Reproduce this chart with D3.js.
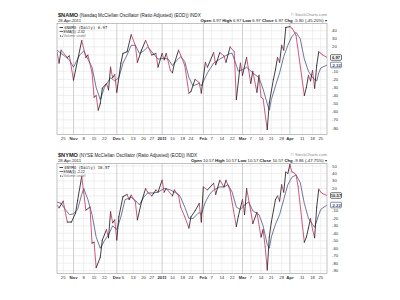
<!DOCTYPE html>
<html>
<head>
<meta charset="utf-8">
<script src="https://cdn.jsdelivr.net/npm/d3@7"></script>
<style>
  html, body { margin: 0; padding: 0; background: #fff; }
  svg { display: block; font-family: 'Liberation Sans', Arial, sans-serif; }
</style>
</head>
<body>
<div id="chart"></div>
<script>
// market holidays between Oct 2010 and Apr 2011 (no bars on these days)
const holidays = ['2010-11-25', '2010-12-24', '2011-01-17', '2011-02-21', '2011-04-22']

const tickDates = ['2010-10-25', '2010-11-01', '2010-11-08', '2010-11-15', '2010-11-22', '2010-12-01', '2010-12-06',
  '2010-12-13', '2010-12-20', '2010-12-27', '2011-01-03', '2011-01-10', '2011-01-18', '2011-01-24', '2011-02-01',
  '2011-02-07', '2011-02-14', '2011-02-22', '2011-03-01', '2011-03-07', '2011-03-14', '2011-03-21', '2011-03-28',
  '2011-04-01', '2011-04-11', '2011-04-18', '2011-04-25']
const tickLabels = ['25', 'Nov', '8', '15', '22', 'Dec', '6', '13', '20', '27', '2011', '10', '18', '24', 'Feb',
  '7', '14', '22', 'Mar', '7', '14', '21', '28', 'Apr', '11', '18', '25']
const monthTicks = ['2010-11-01', '2010-12-01', '2011-01-03', '2011-02-01', '2011-03-01', '2011-04-01']

// $NAMO daily (turning points)
const namo = [
  ['2010-10-20', 14], ['2010-10-21', 0], ['2010-10-22', 16], ['2010-10-27', 7], ['2010-10-28', 9],
  ['2010-11-01', -21], ['2010-11-05', 28], ['2010-11-09', 7], ['2010-11-10', 10], ['2010-11-12', -12],
  ['2010-11-15', -42], ['2010-11-16', -40], ['2010-11-17', -58], ['2010-11-18', -50], ['2010-11-19', -31],
  ['2010-11-23', -25], ['2010-11-24', -33], ['2010-11-26', -5], ['2010-11-29', -18], ['2010-11-30', -14],
  ['2010-12-01', -36], ['2010-12-03', 0], ['2010-12-06', 12], ['2010-12-08', 14], ['2010-12-10', 35],
  ['2010-12-14', 22], ['2010-12-15', 1], ['2010-12-17', 16], ['2010-12-21', 28], ['2010-12-22', 22],
  ['2010-12-27', 10], ['2010-12-29', 12], ['2010-12-30', -5], ['2011-01-03', 12], ['2011-01-04', 4],
  ['2011-01-05', 12], ['2011-01-07', -9], ['2011-01-10', -12], ['2011-01-11', 0], ['2011-01-13', 16],
  ['2011-01-14', 10], ['2011-01-19', -3], ['2011-01-21', -37], ['2011-01-24', -35], ['2011-01-26', -20],
  ['2011-01-28', -24], ['2011-01-31', -37], ['2011-02-02', 1], ['2011-02-03', -5], ['2011-02-08', 13],
  ['2011-02-09', -2], ['2011-02-11', 13], ['2011-02-15', 9], ['2011-02-16', 1], ['2011-02-18', 20],
  ['2011-02-23', 14], ['2011-02-24', -45], ['2011-02-28', 0], ['2011-03-01', -15], ['2011-03-03', 7],
  ['2011-03-07', -25], ['2011-03-08', -10], ['2011-03-10', -36], ['2011-03-11', -15], ['2011-03-14', -42],
  ['2011-03-15', -44], ['2011-03-17', -82], ['2011-03-18', -49], ['2011-03-22', -20], ['2011-03-23', -8],
  ['2011-03-24', 7], ['2011-03-25', 1], ['2011-03-28', 22], ['2011-03-29', 16], ['2011-03-30', 44],
  ['2011-04-01', 45], ['2011-04-04', 43], ['2011-04-05', 39], ['2011-04-06', 34], ['2011-04-12', -40],
  ['2011-04-13', -30], ['2011-04-14', -15], ['2011-04-15', -22], ['2011-04-18', -9], ['2011-04-19', -31],
  ['2011-04-20', -3], ['2011-04-21', 14], ['2011-04-25', 12], ['2011-04-26', 10], ['2011-04-28', 6.97]
]
const namoEma = [
  ['2010-10-20', 16], ['2010-10-22', 12], ['2010-10-26', 8], ['2010-10-28', 4], ['2010-11-01', -5],
  ['2010-11-04', 10], ['2010-11-08', 15], ['2010-11-10', 5], ['2010-11-12', -5], ['2010-11-16', -30],
  ['2010-11-18', -45], ['2010-11-22', -30], ['2010-11-24', -22], ['2010-11-26', -18], ['2010-11-30', -22],
  ['2010-12-02', -18], ['2010-12-06', 0], ['2010-12-08', 10], ['2010-12-10', 22], ['2010-12-14', 22],
  ['2010-12-16', 12], ['2010-12-20', 15], ['2010-12-22', 20], ['2010-12-27', 14], ['2010-12-30', 5],
  ['2011-01-04', 6], ['2011-01-06', 5], ['2011-01-10', -3], ['2011-01-12', 3], ['2011-01-14', 8],
  ['2011-01-19', 2], ['2011-01-21', -18], ['2011-01-25', -28], ['2011-01-28', -25], ['2011-01-31', -28],
  ['2011-02-03', -12], ['2011-02-08', 0], ['2011-02-11', 5], ['2011-02-15', 8], ['2011-02-18', 12],
  ['2011-02-22', 12], ['2011-02-25', -10], ['2011-03-01', -8], ['2011-03-03', -5], ['2011-03-08', -12],
  ['2011-03-11', -18], ['2011-03-15', -32], ['2011-03-17', -50], ['2011-03-18', -58], ['2011-03-21', -45],
  ['2011-03-23', -28], ['2011-03-25', -12], ['2011-03-29', 8], ['2011-03-31', 22], ['2011-04-04', 33],
  ['2011-04-06', 38], ['2011-04-08', 30], ['2011-04-12', 5], ['2011-04-14', -10], ['2011-04-18', -18],
  ['2011-04-20', -22], ['2011-04-21', -12], ['2011-04-25', -6], ['2011-04-28', -2.32]
]

// $NYMO daily
const nymo = [
  ['2010-10-20', -2], ['2010-10-21', -6], ['2010-10-25', 3], ['2010-10-27', -25], ['2010-10-29', -25],
  ['2010-11-02', -13], ['2010-11-03', 4], ['2010-11-05', 36], ['2010-11-08', 14], ['2010-11-09', -9],
  ['2010-11-11', -5], ['2010-11-12', -53], ['2010-11-15', -52], ['2010-11-16', -86], ['2010-11-18', -72],
  ['2010-11-19', -49], ['2010-11-23', -35], ['2010-11-24', -46], ['2010-11-26', -11], ['2010-11-29', -26],
  ['2010-11-30', -22], ['2010-12-01', -49], ['2010-12-02', -18], ['2010-12-06', 9], ['2010-12-08', 12],
  ['2010-12-09', 5], ['2010-12-10', 11], ['2010-12-14', 2], ['2010-12-15', -22], ['2010-12-17', 2],
  ['2010-12-21', 20], ['2010-12-22', 15], ['2010-12-27', 10], ['2010-12-29', 18], ['2010-12-30', 15],
  ['2011-01-03', 31], ['2011-01-04', 15], ['2011-01-05', 20], ['2011-01-10', 10], ['2011-01-11', 18],
  ['2011-01-13', 10], ['2011-01-14', -5], ['2011-01-19', -18], ['2011-01-21', -33], ['2011-01-24', -18],
  ['2011-01-26', -10], ['2011-01-28', 0], ['2011-01-31', -25], ['2011-02-01', 22], ['2011-02-03', 18],
  ['2011-02-08', 27], ['2011-02-09', 12], ['2011-02-11', 31], ['2011-02-15', 22], ['2011-02-16', 31],
  ['2011-02-18', 17], ['2011-02-24', -31], ['2011-02-25', -17], ['2011-03-01', 5], ['2011-03-02', -15],
  ['2011-03-03', 20], ['2011-03-07', -10], ['2011-03-08', -27], ['2011-03-10', -12], ['2011-03-14', -45],
  ['2011-03-15', -35], ['2011-03-16', -58], ['2011-03-17', -89], ['2011-03-18', -45], ['2011-03-21', -25],
  ['2011-03-23', 5], ['2011-03-24', 10], ['2011-03-25', 3], ['2011-03-28', 25], ['2011-03-29', 15],
  ['2011-03-30', 42], ['2011-03-31', 40], ['2011-04-01', 52], ['2011-04-04', 42], ['2011-04-05', 41],
  ['2011-04-06', 38], ['2011-04-07', 22], ['2011-04-12', -52], ['2011-04-13', -45], ['2011-04-14', -33],
  ['2011-04-15', -20], ['2011-04-18', -35], ['2011-04-19', -46], ['2011-04-20', -5], ['2011-04-21', 19],
  ['2011-04-25', 15], ['2011-04-26', 13], ['2011-04-28', 10.57]
]
const nymoEma = [
  ['2010-10-20', 2], ['2010-10-22', 0], ['2010-10-26', -8], ['2010-10-28', -15], ['2010-11-01', -14],
  ['2010-11-03', -8], ['2010-11-05', 12], ['2010-11-08', 20], ['2010-11-10', 5], ['2010-11-12', -15],
  ['2010-11-16', -45], ['2010-11-18', -60], ['2010-11-22', -50], ['2010-11-24', -42], ['2010-11-29', -30],
  ['2010-12-01', -35], ['2010-12-03', -18], ['2010-12-07', 5], ['2010-12-10', 8], ['2010-12-14', 4],
  ['2010-12-16', -2], ['2010-12-20', 8], ['2010-12-22', 14], ['2010-12-28', 14], ['2010-12-30', 15],
  ['2011-01-04', 20], ['2011-01-07', 18], ['2011-01-11', 15], ['2011-01-13', 12], ['2011-01-14', 8],
  ['2011-01-19', -5], ['2011-01-21', -20], ['2011-01-25', -20], ['2011-01-28', -12], ['2011-01-31', -15],
  ['2011-02-02', 2], ['2011-02-04', 12], ['2011-02-08', 18], ['2011-02-11', 22], ['2011-02-15', 22],
  ['2011-02-17', 25], ['2011-02-22', 15], ['2011-02-24', -5], ['2011-02-28', -8], ['2011-03-02', -2],
  ['2011-03-04', 2], ['2011-03-08', -10], ['2011-03-11', -15], ['2011-03-15', -30], ['2011-03-17', -55],
  ['2011-03-18', -60], ['2011-03-21', -45], ['2011-03-23', -28], ['2011-03-25', -15], ['2011-03-29', 5],
  ['2011-03-31', 25], ['2011-04-04', 35], ['2011-04-06', 38], ['2011-04-08', 28], ['2011-04-12', 0],
  ['2011-04-14', -20], ['2011-04-18', -28], ['2011-04-19', -32], ['2011-04-21', -15], ['2011-04-25', -8],
  ['2011-04-28', -2.22]
]

const namoTicks = [40, 30, 20, -10, -20, -30, -40, -50, -60, -70, -80]
const nymoTicks = [50, 40, 30, 20, -10, -20, -30, -40, -50, -60, -70, -80, -90]

const namoHead = {
  ticker: '$NAMO', desc: ' (Nasdaq McClellan Oscillator (Ratio Adjusted) (EOD)) INDX', date: '28-Apr-2011',
  quote: [['Open', '6.97'], ['High', '6.97'], ['Low', '6.97'], ['Close', '6.97'], ['Chg', '-5.80 (-45.20%)']],
  legend: ['$NAMO (Daily) 6.97', 'EMA(5) -2.32'], last: 6.97, lastEma: -2.32
}
const nymoHead = {
  ticker: '$NYMO', desc: ' (NYSE McClellan Oscillator (Ratio Adjusted) (EOD)) INDX', date: '28-Apr-2011',
  quote: [['Open', '10.57'], ['High', '10.57'], ['Low', '10.57'], ['Close', '10.57'], ['Chg', '-9.86 (-47.75%)']],
  legend: ['$NYMO (Daily) 10.57', 'EMA(5) -2.22'], last: 10.57, lastEma: -2.22
}

const UP = '#111111'
const DOWN = '#c4305f'
const EMA_C = '#34406e'
const X0 = 57, X1 = 327

const svg = d3.select('#chart').append('svg').attr('width', 400).attr('height', 300)
svg.append('rect').attr('width', 400).attr('height', 300).attr('fill', '#fff')

const parse = d3.utcParse('%Y-%m-%d')
const fmt = d3.utcFormat('%Y-%m-%d')
const days = d3.utcDay.range(parse('2010-10-20'), parse('2011-04-29'))
  .filter(d => d.getUTCDay() > 0 && d.getUTCDay() < 6)
  .map(fmt)
  .filter(s => !holidays.includes(s))
const dayIdx = new Map(days.map((s, i) => [s, i]))
const x = d3.scaleLinear().domain([0, days.length - 1]).range([X0, X1])
const xd = s => x(dayIdx.get(s))

const panels = [
  { head: namoHead, main: namo, ema: namoEma, ticks: namoTicks, top: 23.5, bottom: 134.5,
    yDom: [-80, 40], yRng: [128, 30.7] },
  { head: nymoHead, main: nymo, ema: nymoEma, ticks: nymoTicks, top: 163.5, bottom: 273.5,
    yDom: [-90, 50], yRng: [270.7, 166] }
]

panels.forEach((p, pi) => {
  const y = d3.scaleLinear().domain(p.yDom).range(p.yRng)
  const g = svg.append('g')
  const h = p.head

  // header
  const t = g.append('text').attr('x', 58).attr('y', p.top - 7).attr('font-size', 4.6).attr('fill', '#222')
  t.append('tspan').attr('font-weight', 'bold').attr('font-size', 5.6).text(h.ticker)
  t.append('tspan').text(h.desc)
  g.append('text').attr('x', 58).attr('y', p.top - 1.8).attr('font-size', 4.2).attr('fill', '#222').text(h.date)
  g.append('text').attr('x', X1).attr('y', p.top - 8).attr('font-size', 4.2).attr('fill', '#888')
    .attr('text-anchor', 'end').text('© StockCharts.com')
  const q = g.append('text').attr('x', X1).attr('y', p.top - 1.8).attr('font-size', 4.3).attr('fill', '#222')
    .attr('text-anchor', 'end')
  h.quote.forEach(([k, v], i) => {
    q.append('tspan').attr('font-weight', 'bold').text((i ? ' ' : '') + k + ' ')
    q.append('tspan').text(v)
  })
  q.append('tspan').text(' ▾')

  // clip
  svg.append('defs').append('clipPath').attr('id', 'clip' + pi)
    .append('rect').attr('x', X0).attr('y', p.top).attr('width', X1 - X0).attr('height', p.bottom - p.top)

  // grid
  const grid = g.append('g')
  const hv = d3.range(-100, 70, 10).filter(v => y(v) > p.top + 0.5 && y(v) < p.bottom - 0.5)
  grid.selectAll('line.h').data(hv).join('line')
    .attr('x1', X0).attr('x2', X1).attr('y1', d => y(d)).attr('y2', d => y(d))
    .attr('stroke', '#e4e4e4').attr('stroke-width', 0.6)
  grid.selectAll('line.v').data(tickDates).join('line')
    .attr('x1', d => xd(d)).attr('x2', d => xd(d)).attr('y1', p.top).attr('y2', p.bottom)
    .attr('stroke', d => monthTicks.includes(d) ? '#cfcfcf' : '#e4e4e4')
    .attr('stroke-width', d => monthTicks.includes(d) ? 1 : 0.6)

  // lines
  const lg = g.append('g').attr('clip-path', `url(#clip${pi})`)
  const line = d3.line().x(d => xd(d[0])).y(d => y(d[1]))
  lg.append('path').attr('d', line(p.ema)).attr('fill', 'none')
    .attr('stroke', EMA_C).attr('stroke-width', 0.7).attr('stroke-linejoin', 'round')
  lg.selectAll('line.seg').data(d3.pairs(p.main)).join('line')
    .attr('x1', d => xd(d[0][0])).attr('y1', d => y(d[0][1]))
    .attr('x2', d => xd(d[1][0])).attr('y2', d => y(d[1][1]))
    .attr('stroke', d => d[1][1] >= d[0][1] ? UP : DOWN)
    .attr('stroke-width', 0.8).attr('stroke-linecap', 'round')

  // frame
  g.append('rect').attr('x', X0).attr('y', p.top).attr('width', X1 - X0).attr('height', p.bottom - p.top)
    .attr('fill', 'none').attr('stroke', '#9a9a9a').attr('stroke-width', 0.6)

  // legend inside plot
  const leg = g.append('g').attr('font-size', 4).attr('fill', '#222')
  const ly = p.top + 4
  leg.append('line').attr('x1', 59.5).attr('x2', 63).attr('y1', ly).attr('y2', ly).attr('stroke', UP).attr('stroke-width', 0.8)
  leg.append('text').attr('x', 64).attr('y', ly + 1.5).attr('font-family', 'DejaVu Sans Mono').attr('font-size', 4).text(h.legend[0])
  leg.append('line').attr('x1', 59.5).attr('x2', 63).attr('y1', ly + 4).attr('y2', ly + 4).attr('stroke', EMA_C).attr('stroke-width', 0.8)
  leg.append('text').attr('x', 63.5).attr('y', ly + 5.4).attr('font-size', 3.6).text(h.legend[1])
  leg.append('path').attr('d', `M59.5,${ly + 9.4}h0.8v-2h0.8v2h0.8v-1.2h0.8v1.2z`).attr('fill', '#555')
  leg.append('text').attr('x', 63.5).attr('y', ly + 9.4).attr('font-size', 3.6).attr('fill', '#777').text('Volume undef')

  // right axis
  g.append('g').selectAll('text').data(p.ticks).join('text')
    .attr('x', X1 + 5).attr('y', d => y(d) + 1.5).attr('font-size', 4.3).attr('fill', '#333').text(d => d)
  ;[[h.last, UP], [h.lastEma, EMA_C]].forEach(([v, c]) => {
    const yy = y(v)
    g.append('rect').attr('x', X1 + 3.5).attr('y', yy - 2.8).attr('width', 11).attr('height', 5.6)
      .attr('rx', 1).attr('fill', '#fff').attr('stroke', c).attr('stroke-width', 0.6)
    g.append('text').attr('x', X1 + 9).attr('y', yy + 1.6).attr('font-size', 4.2).attr('font-weight', 'bold')
      .attr('text-anchor', 'middle').attr('fill', c).text(v)
  })

  // bottom axis labels
  g.append('g').selectAll('text').data(tickDates).join('text')
    .attr('x', d => xd(d)).attr('y', p.bottom + 5.2)
    .attr('font-size', 4.3).attr('text-anchor', 'middle').attr('fill', '#333')
    .attr('font-weight', d => monthTicks.includes(d) ? 'bold' : 'normal')
    .text((d, i) => tickLabels[i])
})
</script>
</body>
</html>
